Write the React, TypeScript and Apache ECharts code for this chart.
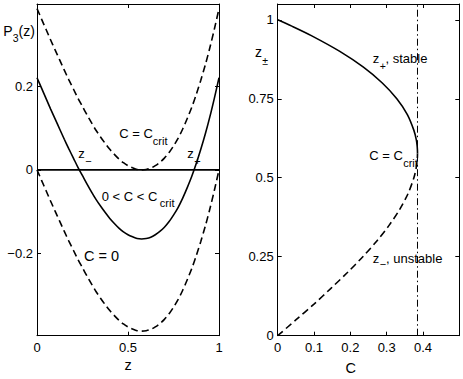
import React, { useEffect, useRef } from 'react';
import * as echarts from 'echarts';

// ---- data ----
const zGrid = [0, 0.025, 0.05, 0.075, 0.1, 0.125, 0.15, 0.175, 0.2, 0.225, 0.25, 0.275, 0.3, 0.325, 0.35, 0.375, 0.4, 0.425, 0.45, 0.475, 0.5, 0.525, 0.55, 0.575, 0.6, 0.625, 0.65, 0.675, 0.7, 0.725, 0.75, 0.775, 0.8, 0.825, 0.85, 0.875, 0.9, 0.925, 0.95, 0.975, 1];
const pCzero = [0, -0.025, -0.05, -0.075, -0.099, -0.123, -0.147, -0.17, -0.192, -0.214, -0.234, -0.254, -0.273, -0.291, -0.307, -0.322, -0.336, -0.348, -0.359, -0.368, -0.375, -0.38, -0.384, -0.385, -0.384, -0.381, -0.375, -0.367, -0.357, -0.344, -0.328, -0.31, -0.288, -0.263, -0.236, -0.205, -0.171, -0.134, -0.093, -0.048, 0];
const pCmid = [0.22, 0.195, 0.17, 0.145, 0.121, 0.097, 0.073, 0.05, 0.028, 0.006, -0.014, -0.034, -0.053, -0.071, -0.087, -0.102, -0.116, -0.128, -0.139, -0.148, -0.155, -0.16, -0.164, -0.165, -0.164, -0.161, -0.155, -0.147, -0.137, -0.124, -0.108, -0.09, -0.068, -0.043, -0.016, 0.015, 0.049, 0.086, 0.127, 0.172, 0.22];
const pCcrit = [0.385, 0.36, 0.335, 0.31, 0.286, 0.262, 0.238, 0.215, 0.193, 0.171, 0.151, 0.131, 0.112, 0.094, 0.078, 0.063, 0.049, 0.037, 0.026, 0.017, 0.01, 0.005, 0.001, 0, 0.001, 0.004, 0.01, 0.018, 0.028, 0.041, 0.057, 0.075, 0.097, 0.122, 0.149, 0.18, 0.214, 0.251, 0.292, 0.337, 0.385];
const zeroLineX = [0, 1];
const zeroLineY = [0, 0];

const stableZ = [1, 0.98, 0.95, 0.9, 0.85, 0.8, 0.75, 0.7, 0.65, 0.62, 0.6, 0.59, 0.58, 0.577];
const stableC = [0, 0.0388, 0.0926, 0.171, 0.236, 0.288, 0.328, 0.357, 0.375, 0.3817, 0.384, 0.3846, 0.3849, 0.3849];
const unstableZ = [0, 0.05, 0.1, 0.15, 0.2, 0.25, 0.3, 0.35, 0.4, 0.45, 0.5, 0.53, 0.55, 0.56, 0.57, 0.577];
const unstableC = [0, 0.0499, 0.0999, 0.1466, 0.192, 0.2344, 0.273, 0.3071, 0.336, 0.3589, 0.375, 0.3811, 0.3836, 0.3844, 0.3848, 0.3849];
const cCrit = 0.3849;
const critLineZ = [0, 1.05];

const leftXTicks = [0, 0.5, 1];
const leftYTicks = [-0.2, 0, 0.2];
const rightXTicks = [0, 0.1, 0.2, 0.3, 0.4];
const rightYTicks = [0, 0.25, 0.5, 0.75, 1];

const FONT = "'Liberation Sans', Arial, Helvetica, sans-serif";

const zip = (a: number[], b: number[]) => a.map((v, i) => [v, b[i]]);

const fmt = (v: number) => String(v).replace('-', '\u2212');

function axis(gridIndex: number, position: string, min: number, max: number, ticks: number[], showLabel: boolean, margin = 5) {
  return {
    type: 'value',
    gridIndex,
    position,
    min,
    max,
    axisLine: { show: true, onZero: false, lineStyle: { color: '#000', width: 1 } },
    axisTick: { show: true, inside: true, length: 4, customValues: ticks, lineStyle: { color: '#000', width: 1 } },
    axisLabel: {
      show: showLabel,
      customValues: ticks,
      formatter: fmt,
      color: '#000',
      fontSize: 13,
      fontFamily: FONT,
      margin,
    },
    splitLine: { show: false },
  };
}

function txt(x: number, y: number, text: string, size: number, align = 'left') {
  return {
    type: 'text',
    x,
    y,
    silent: true,
    style: {
      text,
      fill: '#000',
      font: `${size}px ${FONT}`,
      textAlign: align,
      textVerticalAlign: 'middle',
    },
  };
}

const lineSeries = (xi: number, yi: number, data: number[][], type: any, width = 1.6, smooth: any = false) => ({
  type: 'line',
  xAxisIndex: xi,
  yAxisIndex: yi,
  data,
  showSymbol: false,
  symbol: 'none',
  smooth,
  lineStyle: { color: '#000', width, type },
  silent: true,
});

export default function App() {
  const ref = useRef<HTMLDivElement>(null);
  useEffect(() => {
    if (!ref.current) return;
    const chart = echarts.init(ref.current, null, { renderer: 'svg' });
    chart.setOption({
      animation: false,
      backgroundColor: '#fff',
      grid: [
        { left: 37, top: 4, width: 182, height: 331.7 },
        { left: 277.7, top: 4, width: 181.6, height: 331.7 },
      ],
      xAxis: [
        axis(0, 'bottom', 0, 1, leftXTicks, true),
        axis(0, 'top', 0, 1, leftXTicks, false),
        axis(1, 'bottom', 0, 0.5, rightXTicks, true),
        axis(1, 'top', 0, 0.5, rightXTicks, false),
      ],
      yAxis: [
        axis(0, 'left', -0.396, 0.396, leftYTicks, true, 4),
        axis(0, 'right', -0.396, 0.396, leftYTicks, false),
        axis(1, 'left', 0, 1.05, rightYTicks, true, 4),
        axis(1, 'right', 0, 1.05, rightYTicks, false),
      ],
      series: [
        lineSeries(0, 0, zip(zeroLineX, zeroLineY), 'solid'),
        lineSeries(0, 0, zip(zGrid, pCzero), [7, 4], 1.6, 0.3),
        lineSeries(0, 0, zip(zGrid, pCmid), 'solid', 1.6, 0.3),
        lineSeries(0, 0, zip(zGrid, pCcrit), [7, 4], 1.6, 0.3),
        lineSeries(2, 2, zip(stableC, stableZ), 'solid', 1.6, 0.3),
        lineSeries(2, 2, zip(unstableC, unstableZ), [7, 4], 1.6, 0.3),
        lineSeries(2, 2, critLineZ.map((z) => [cCrit, z]), [7, 3, 1.5, 3], 1),
      ],
      graphic: [
        // left axis names
        txt(3.3, 31, 'P', 14),
        txt(12.8, 38.3, '3', 10.5),
        txt(18.5, 31, '(z)', 14),
        txt(128, 365, 'z', 14.5, 'center'),
        // left annotations
        txt(119.3, 133.3, 'C = C', 13),
        txt(152.8, 140.7, 'crit', 11),
        txt(78.3, 153.3, 'z', 13),
        txt(85.2, 160.7, '\u2212', 11),
        txt(187.3, 153.3, 'z', 13),
        txt(194.2, 160.7, '+', 11),
        txt(101.7, 196.7, '0 < C < C', 13),
        txt(159.8, 202.7, 'crit', 11),
        txt(84, 256, 'C = 0', 14.5),
        // right axis names
        txt(255, 52, 'z', 14),
        txt(262.3, 61, '\u00b1', 10.5),
        txt(350.7, 368, 'C', 14.5, 'center'),
        // right annotations
        txt(372.8, 58.3, 'z', 13),
        txt(379.8, 66, '+', 10.5),
        txt(385.5, 58.3, ', stable', 13),
        txt(369.3, 155, 'C = C', 13),
        txt(403.2, 162.5, 'crit', 11),
        txt(372.8, 258.3, 'z', 13),
        txt(379.8, 264, '\u2212', 11),
        txt(386, 258.3, ', unstable', 13),
      ],
    });
    return () => chart.dispose();
  }, []);
  return <div ref={ref} style={{ position: 'fixed', left: 0, top: 0, width: 463, height: 379 }} />;
}
